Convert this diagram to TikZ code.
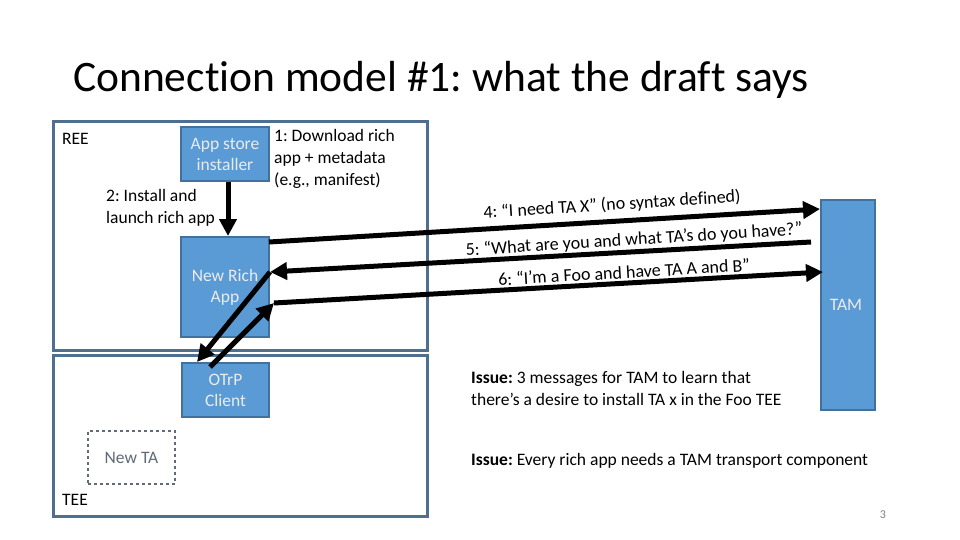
\documentclass[tikz,border=0pt]{standalone}
\usepackage{fontspec}
\setmainfont{Carlito}[Ligatures=NoCommon]
\usetikzlibrary{arrows.meta}
\definecolor{boxfill}{HTML}{5B9BD5}
\definecolor{boxline}{HTML}{41719C}
\definecolor{frameline}{HTML}{4F6F8F}
\definecolor{tagray}{HTML}{5F6B78}
\begin{document}
\frenchspacing
\begin{tikzpicture}[x=1pt,y=-1pt,
  bluebox/.style={draw=boxline,line width=2pt,fill=boxfill,text=white!92!black,align=center,font=\fontsize{17.5}{21}\selectfont,inner sep=0pt},
  frame/.style={draw=frameline,line width=3pt},
  lbl/.style={font=\fontsize{17.5}{22}\selectfont,inner sep=0pt},
  msg/.style={font=\fontsize{18}{20}\selectfont,inner sep=0pt},
  bigarrow/.style={line width=5pt,-{Triangle[length=17pt,width=17pt]}}]
\useasboundingbox[fill=white] (0,0) rectangle (960,540);
% title
\node[anchor=west,inner sep=0pt,font=\fontsize{43.5}{46}\selectfont] (title) at (73,80) {Connection model \#1: what the draft says};
% frames
\draw[frame] (53,122) rectangle (427,350);
\draw[frame] (53,355) rectangle (427,516);
\node[lbl,anchor=west] (ree) at (62,139) {REE};
\node[lbl,anchor=west] (tee) at (62,500) {TEE};
% boxes
\node[bluebox,minimum width=88pt,minimum height=54pt] (store) at (225,154) {App store\\installer};
\node[bluebox,minimum width=88pt,minimum height=100pt] (rich) at (225,287) {New Rich\\App};
\node[bluebox,minimum width=87pt,minimum height=54pt] (otrp) at (225.5,390) {OTrP\\Client};
\node[draw=tagray,dashed,line width=1.5pt,minimum width=87pt,minimum height=53pt,text=tagray,font=\fontsize{17.5}{20}\selectfont,inner sep=0pt] (newta) at (131.5,457.5) {New TA};
\node[bluebox,minimum width=54pt,minimum height=210pt,anchor=north west] (tam) at (820,199) {};
\node[font=\fontsize{17.5}{20}\selectfont,text=white!92!black,inner sep=0pt] (tamlbl) at (846,305) {TAM};
% labels
\node[lbl,anchor=north west,align=left] (l1) at (274,129) {1: Download rich\\app + metadata\\(e.g., manifest)};
\node[lbl,anchor=north west,align=left] (l2) at (106,189) {2: Install and\\launch rich app};
% arrows
\draw[bigarrow] (store.south -| 228,0) -- (rich.north -| 228,0);
\coordinate (a4s) at (269,242);
\coordinate (a4e) at (820,209);
\draw[bigarrow] (a4s) -- (a4e);
\coordinate (a5s) at (811,242);
\coordinate (a5m) at (270,272);
\coordinate (a5e) at (197,362);
\draw[bigarrow] (a5s) -- (a5m);
\draw[bigarrow] (a5m) -- (a5e);
\coordinate (a6s) at (210,367);
\coordinate (a6m) at (274,303);
\coordinate (a6e) at (823,272);
\draw[bigarrow] (a6s) -- (a6m);
\draw[bigarrow] (a6m) -- (a6e);
% message labels
\node[msg,rotate=3.6] (m4) at (612,205) {4: “I need TA X” (no syntax defined)};
\node[msg,rotate=3.6] (m5) at (634,240) {5: “What are you and what TA’s do you have?”};
\node[msg,rotate=3.3] (m6) at (624,272) {6: “I’m a Foo and have TA A and B”};
% issues
\node[lbl,anchor=north west,align=left] (i1) at (471,371) {\textbf{Issue:} 3 messages for TAM to learn that\\there’s a desire to install TA x in the Foo TEE};
\node[lbl,anchor=west] (i2) at (471,461) {\textbf{Issue:} Every rich app needs a TAM transport component};
\node[font=\fontsize{12}{12}\selectfont,text=gray,inner sep=0pt] (pg) at (883,515) {3};
\end{tikzpicture}
\end{document}
